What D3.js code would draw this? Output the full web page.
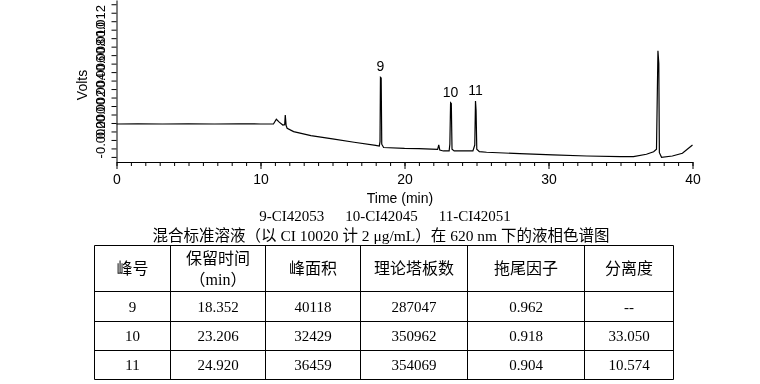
<!DOCTYPE html>
<html><head><meta charset="utf-8">
<script src="https://cdn.jsdelivr.net/npm/d3@7"></script>
<style>
html,body{margin:0;padding:0;background:#fff;}
svg{display:block;filter:grayscale(1);}
svg text{fill:#000;}
</style></head>
<body>
<svg id="c" width="760" height="384"></svg>
<script>
// ---------- data ----------
const times = [0, 1.5, 3.2, 5.0, 6.8, 8.5, 10.0, 10.9, 11.1, 11.3, 11.55, 11.68, 11.72, 11.78, 11.85,
  12.3, 13.5, 15.0, 16.5, 18.0, 18.25, 18.3, 18.33, 18.38, 18.42, 18.55, 20.0, 21.0, 22.3, 22.38, 22.45,
  22.7, 23.1, 23.15, 23.2, 23.25, 23.3, 23.45, 24.75, 24.88, 24.93, 24.97, 25.02, 25.2, 25.7, 28.0, 30.3,
  32.65, 35.0, 35.9, 36.8, 37.3, 37.5, 37.6, 37.66, 37.7, 37.85, 38.6, 39.3, 40.0];
const volts = [-0.00012, -0.00010, -0.00012, -0.00011, -0.00012, -0.00010, -0.00012, -0.00012, 0.00044, 0.0001, -0.00024, -0.0002, 0.00094, -0.0003, -0.00062,
  -0.00102, -0.00149, -0.00188, -0.00227, -0.00265, -0.00271, -0.0022, 0.00538, 0.0053, -0.0025, -0.00289, -0.0030, -0.00302, -0.00312, -0.00259, -0.0032,
  -0.0033, -0.0033, -0.0025, 0.00239, 0.0023, -0.0031, -0.0033, -0.0033, -0.0026, 0.00259, 0.0015, -0.0031, -0.00338, -0.00345, -0.00362, -0.00377,
  -0.00389, -0.00397, -0.00397, -0.00369, -0.0034, -0.0031, 0.00852, 0.0070, -0.0035, -0.00404, -0.00389, -0.00357, -0.00259];

const peakLabels = ["9", "10", "11"];
const peakTimes = [18.33, 23.2, 24.93];
const peakTops = [0.00538, 0.00239, 0.00259];

const xMajorTicks = [0, 10, 20, 30, 40];
const yTickLabels = ["-0.002", "0.000", "0.002", "0.004", "0.006", "0.008", "0.010", "0.012"];
const yTickValues = [-0.002, 0, 0.002, 0.004, 0.006, 0.008, 0.010, 0.012];

const legendText = ["9-CI42053", "10-CI42045", "11-CI42051"];
const captionText = "混合标准溶液（以 CI 10020 计 2 μg/mL）在 620 nm 下的液相色谱图";

const tableHeaders = [["峰号"], ["保留时间", "（min）"], ["峰面积"], ["理论塔板数"], ["拖尾因子"], ["分离度"]];
const peakNo = ["9", "10", "11"];
const retTime = ["18.352", "23.206", "24.920"];
const peakArea = ["40118", "32429", "36459"];
const plates = ["287047", "350962", "354069"];
const tailing = ["0.962", "0.918", "0.904"];
const resolution = ["--", "33.050", "10.574"];

// ---------- layout ----------
const svg = d3.select("#c");
const X0 = 116.5, X1 = 692.5, YB = 162, YT = 0;
const x = d3.scaleLinear().domain([0, 40]).range([X0, X1]);
const y = d3.scaleLinear().domain([-0.0046, 0.0145]).range([YB, YT]);
const sans = "'Liberation Sans', Arial, sans-serif";
const serif = "'Liberation Serif', 'Times New Roman', 'Noto Sans CJK SC'";

// x axis: minor ticks
svg.append("g").attr("transform", `translate(0,${YB})`)
  .call(d3.axisBottom(x).tickValues(d3.range(0, 41, 1)).tickSize(4).tickSizeOuter(0).tickFormat(""))
  .call(g => g.selectAll("line,path").attr("stroke", "#000"));
// x axis: major ticks with labels
svg.append("g").attr("transform", `translate(0,${YB})`)
  .call(d3.axisBottom(x).tickValues(xMajorTicks).tickSize(7).tickSizeOuter(0).tickPadding(5).tickFormat(d3.format("d")))
  .call(g => g.select(".domain").remove())
  .call(g => g.selectAll("line").attr("stroke", "#000"))
  .call(g => g.selectAll("text").attr("font-family", sans).attr("font-size", 14).attr("fill", "#000"));

// y axis
svg.append("g").attr("transform", `translate(${X0},0)`)
  .call(d3.axisLeft(y).tickValues(d3.range(-4, 15).map(d => d / 1000)).tickSize(5).tickSizeOuter(0).tickFormat(""))
  .call(g => g.selectAll("line,path").attr("stroke", "#000"));
svg.append("g").selectAll("text").data(yTickValues).join("text")
  .attr("transform", (d) => `translate(105,${y(d)}) rotate(-90)`)
  .attr("text-anchor", "middle")
  .attr("font-family", sans).attr("font-size", 13)
  .text((d, i) => yTickLabels[i]);

// axis titles
svg.append("text").attr("transform", `translate(87,85) rotate(-90)`).attr("text-anchor", "middle")
  .attr("font-family", sans).attr("font-size", 14).text("Volts");
svg.append("text").attr("x", 400).attr("y", 203).attr("text-anchor", "middle")
  .attr("font-family", sans).attr("font-size", 14).text("Time (min)");

// trace
const pts = times.map((t, i) => [t, volts[i]]);
svg.append("path").datum(pts)
  .attr("fill", "none").attr("stroke", "#000").attr("stroke-width", 1.2)
  .attr("d", d3.line().x(d => x(d[0])).y(d => y(d[1])));

// peak labels
svg.append("g").selectAll("text").data(peakLabels).join("text")
  .attr("x", (d, i) => x(peakTimes[i]))
  .attr("y", (d, i) => y(peakTops[i]) - 6)
  .attr("text-anchor", "middle").attr("font-family", sans).attr("font-size", 14)
  .text(d => d);

// legend line
const leg = svg.append("text").attr("x", 385).attr("y", 221).attr("text-anchor", "middle")
  .attr("font-family", serif).attr("font-size", 15);
legendText.forEach((s, i) => leg.append("tspan").attr("dx", i ? 21 : 0).text(s));

// caption
svg.append("text").attr("x", 381).attr("y", 241).attr("text-anchor", "middle")
  .attr("font-family", serif).attr("font-size", 15.5).text(captionText);

// ---------- table ----------
const colEdges = [94.5, 170.5, 265.5, 360.5, 467.5, 584.5, 673.5];
const rowEdges = [245.5, 291.5, 321.5, 350.5, 379.5];
const tg = svg.append("g").attr("stroke", "#000").attr("stroke-width", 1);
tg.selectAll("line.h").data(rowEdges).join("line").attr("class", "h")
  .attr("x1", colEdges[0]).attr("x2", colEdges[colEdges.length - 1])
  .attr("y1", d => d).attr("y2", d => d);
tg.selectAll("line.v").data(colEdges).join("line").attr("class", "v")
  .attr("y1", rowEdges[0]).attr("y2", rowEdges[rowEdges.length - 1])
  .attr("x1", d => d).attr("x2", d => d);

const colCenter = i => (colEdges[i] + colEdges[i + 1]) / 2;
const rowCenter = j => (rowEdges[j] + rowEdges[j + 1]) / 2;

// headers
tableHeaders.forEach((lines, i) => {
  const cy = rowCenter(0);
  lines.forEach((s, k) => {
    const off = lines.length === 1 ? 0 : (k === 0 ? -10 : 11);
    svg.append("text").attr("x", colCenter(i)).attr("y", cy + off)
      .attr("dy", "0.35em").attr("text-anchor", "middle")
      .attr("font-family", serif).attr("font-size", 16).text(s);
  });
});
const cols = [peakNo, retTime, peakArea, plates, tailing, resolution];
cols.forEach((col, i) => {
  col.forEach((s, j) => {
    svg.append("text").attr("x", colCenter(i)).attr("y", rowCenter(j + 1))
      .attr("dy", "0.35em").attr("text-anchor", "middle")
      .attr("font-family", serif).attr("font-size", 15).text(s);
  });
});
</script>
</body></html>
